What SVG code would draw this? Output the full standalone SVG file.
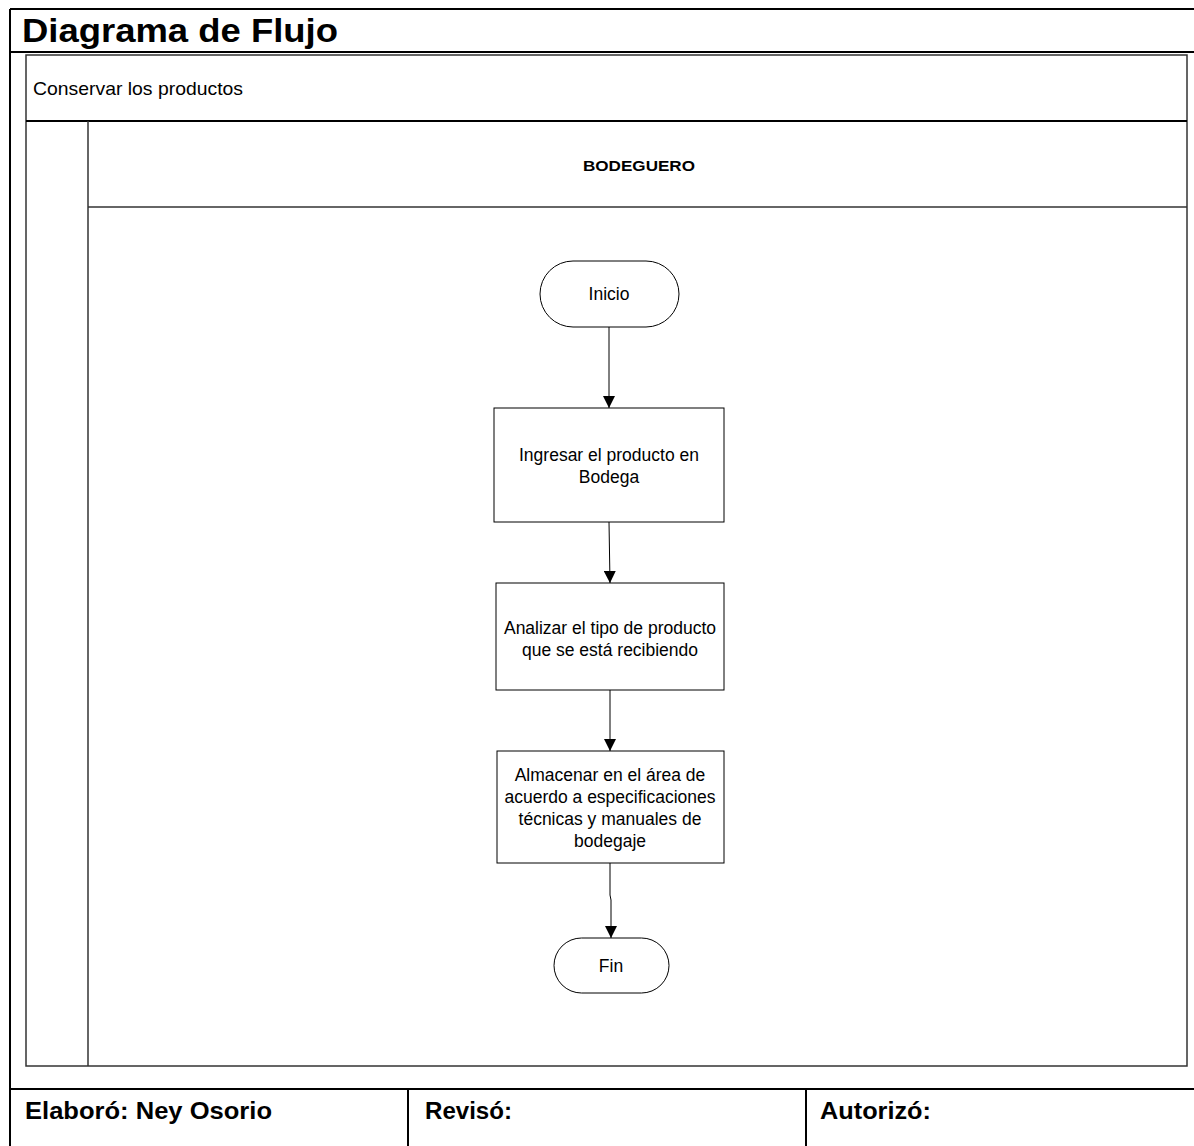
<svg xmlns="http://www.w3.org/2000/svg" width="1194" height="1146" viewBox="0 0 1194 1146">
  <style>
    .frame { fill: none; stroke: #000; stroke-width: 2; }
    .thin { fill: none; stroke: #333; stroke-width: 1.5; }
    .shape { fill: #fff; stroke: #000; stroke-width: 1; }
    .edge { fill: none; stroke: #000; stroke-width: 1; }
    .lbl { font-family: "Liberation Sans", Arial, sans-serif; font-size: 17.5px; fill: #000; text-anchor: middle; }
    .title { font-family: "Liberation Sans", Arial, sans-serif; font-size: 33px; font-weight: bold; fill: #000; }
    .sub { font-family: "Liberation Sans", Arial, sans-serif; font-size: 19px; fill: #000; }
    .lane { font-family: "Liberation Sans", Arial, sans-serif; font-size: 15px; font-weight: bold; fill: #000; text-anchor: middle; }
    .foot { font-family: "Liberation Sans", Arial, sans-serif; font-size: 23px; font-weight: bold; fill: #000; }
  </style>
  <defs>
    <marker id="arrow" markerWidth="13" markerHeight="12" refX="12" refY="6" orient="auto" markerUnits="userSpaceOnUse">
      <path d="M0,0 L12,6 L0,12 Z" fill="#000"/>
    </marker>
  </defs>

  <rect x="0" y="0" width="1194" height="1146" fill="#fff"/>

  <!-- outer sheet frame -->
  <g id="sheet">
    <line class="frame" x1="10" y1="9" x2="1194" y2="9"/>
    <line class="frame" x1="10" y1="9" x2="10" y2="1146"/>
    <line class="frame" x1="10" y1="52" x2="1194" y2="52"/>
    <text class="title" x="22" y="42" textLength="316" lengthAdjust="spacingAndGlyphs">Diagrama de Flujo</text>
  </g>

  <!-- process name and swimlane -->
  <g id="pool">
    <rect class="thin" x="26" y="55" width="1161" height="1011"/>
    <line class="frame" x1="26" y1="121" x2="1187" y2="121"/>
    <line class="thin" x1="88" y1="121" x2="88" y2="1066"/>
    <line class="thin" x1="88" y1="207" x2="1187" y2="207"/>
    <text class="sub" x="33" y="95" textLength="210" lengthAdjust="spacingAndGlyphs">Conservar los productos</text>
    <text class="lane" x="639" y="171" textLength="112" lengthAdjust="spacingAndGlyphs">BODEGUERO</text>
  </g>

  <!-- flow connectors -->
  <g id="connectors">
    <line class="edge" x1="609" y1="327" x2="609" y2="408" marker-end="url(#arrow)"/>
    <line class="edge" x1="609" y1="522" x2="610" y2="583" marker-end="url(#arrow)"/>
    <line class="edge" x1="610" y1="690" x2="610" y2="751" marker-end="url(#arrow)"/>
    <path class="edge" d="M610,863 L610,895 L611,900 L611,938" marker-end="url(#arrow)"/>
  </g>

  <g id="inicio">
    <rect class="shape" x="540" y="261" width="139" height="66" rx="33" ry="33"/>
    <text class="lbl" x="609" y="300">Inicio</text>
  </g>

  <g id="ingresar">
    <rect class="shape" x="494" y="408" width="230" height="114"/>
    <text class="lbl" x="609" y="461">Ingresar el producto en</text>
    <text class="lbl" x="609" y="483">Bodega</text>
  </g>

  <g id="analizar">
    <rect class="shape" x="496" y="583" width="228" height="107"/>
    <text class="lbl" x="610" y="634">Analizar el tipo de producto</text>
    <text class="lbl" x="610" y="656">que se está recibiendo</text>
  </g>

  <g id="almacenar">
    <rect class="shape" x="497" y="751" width="227" height="112"/>
    <text class="lbl" x="610" y="781">Almacenar en el área de</text>
    <text class="lbl" x="610" y="803">acuerdo a especificaciones</text>
    <text class="lbl" x="610" y="825">técnicas y manuales de</text>
    <text class="lbl" x="610" y="847">bodegaje</text>
  </g>

  <g id="fin">
    <rect class="shape" x="554" y="938" width="115" height="55" rx="27.5" ry="27.5"/>
    <text class="lbl" x="611" y="972">Fin</text>
  </g>

  <!-- signature footer -->
  <g id="footer">
    <line class="frame" x1="10" y1="1089" x2="1194" y2="1089"/>
    <line class="frame" x1="408" y1="1089" x2="408" y2="1146"/>
    <line class="frame" x1="806" y1="1089" x2="806" y2="1146"/>
    <text class="foot" x="25" y="1119" textLength="247" lengthAdjust="spacingAndGlyphs">Elaboró: Ney Osorio</text>
    <text class="foot" x="425" y="1119" textLength="87" lengthAdjust="spacingAndGlyphs">Revisó:</text>
    <text class="foot" x="820" y="1119" textLength="111" lengthAdjust="spacingAndGlyphs">Autorizó:</text>
  </g>
</svg>
